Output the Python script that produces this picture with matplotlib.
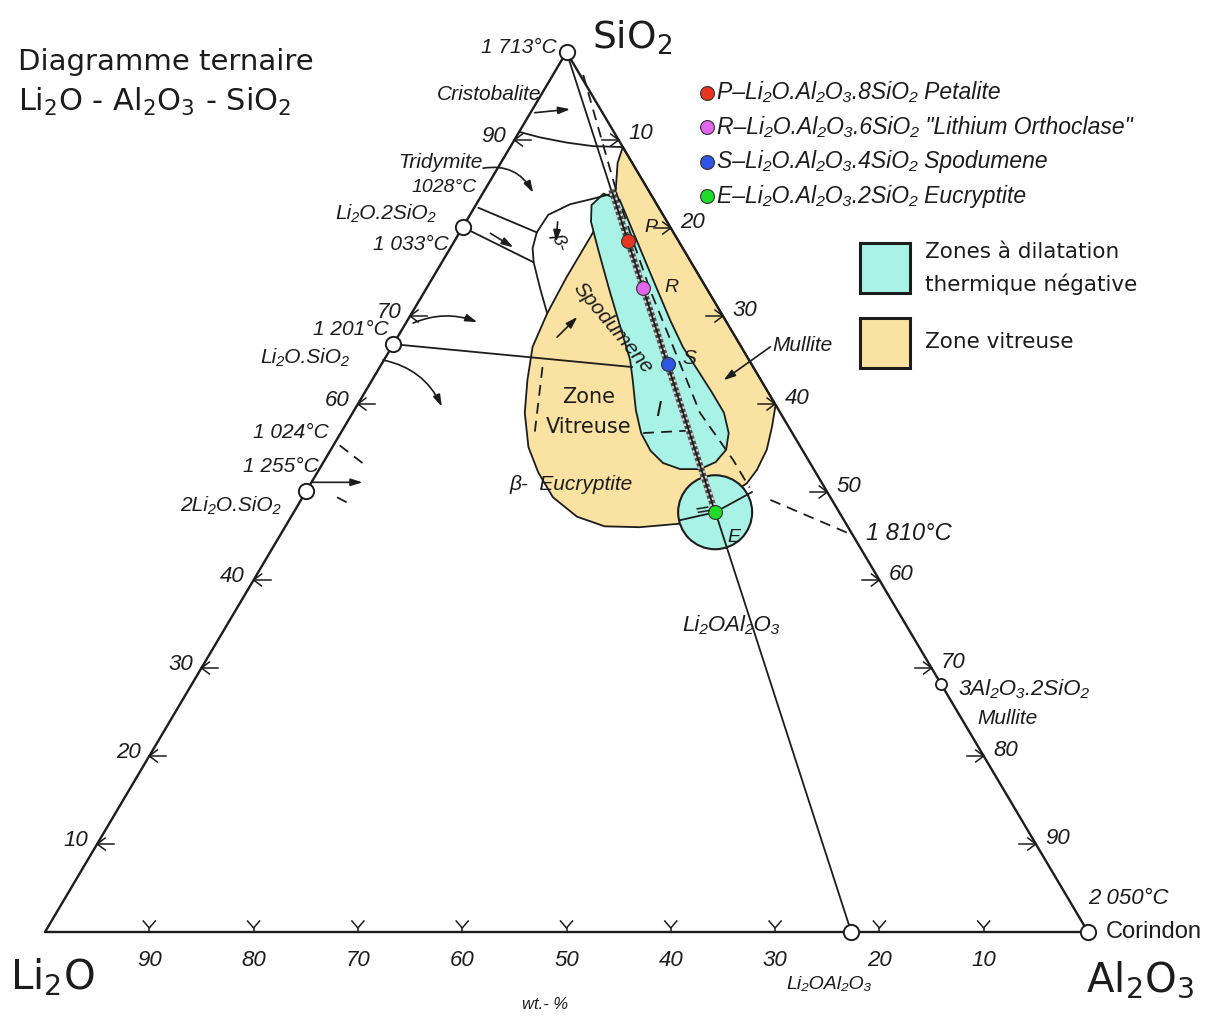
#!/usr/bin/env python3
"""
Ternary diagram Li2O - Al2O3 - SiO2 with the glass zone and the zones of
negative thermal expansion (P, R, S, E compositions).
"""

import matplotlib
matplotlib.use('Agg')
import matplotlib.pyplot as plt
from matplotlib.patches import Polygon, Circle, Rectangle
import numpy as np

# ---------------------------------------------------------------------------
# Data - compositions in wt %, given as (Al2O3, SiO2); Li2O is the rest
# ---------------------------------------------------------------------------
tick_values = [10, 20, 30, 40, 50, 60, 70, 80, 90]
left_labels = [10, 20, 30, 40, 60, 70, 90]

# white circles: SiO2, Al2O3, Li2O.Al2O3, Li2O.SiO2, Li2O.2SiO2, 2Li2O.SiO2
compound_al = [0, 100, 77.3, 0, 0, 0]
compound_si = [100, 0, 0, 66.8, 80.1, 50.1]
mullite_al, mullite_si = 71.8, 28.2

phase_names = ['P', 'R', 'S', 'E']
phase_al = [16.6, 20.7, 27.4, 40.4]
phase_si = [78.5, 73.2, 64.6, 47.7]
phase_colors = ['#e8351f', '#e066ec', '#2f55e6', '#1fdc2a']
phase_legend = ['P–Li₂O.Al₂O₃.8SiO₂ Petalite',
                'R–Li₂O.Al₂O₃.6SiO₂ "Lithium Orthoclase"',
                'S–Li₂O.Al₂O₃.4SiO₂ Spodumene',
                'E–Li₂O.Al₂O₃.2SiO₂ Eucryptite']

# glass zone (yellow)
glass_al = [10.8, 40.1, 41.0, 41.8, 42.0, 41.8, 41.2, 40.6, 37.7, 34.0, 30.6,
            27.4, 24.0, 21.2, 18.8, 16.5, 14.9, 13.5, 13.0, 12.8, 12.8, 12.7, 11.2]
glass_si = [89.2, 59.9, 57.4, 54.8, 52.5, 51.0, 50.2, 47.4, 46.4, 46.0, 46.1,
            47.2, 49.4, 52.2, 55.1, 59.0, 62.7, 66.5, 70.3, 74.4, 79.0, 84.0, 87.4]

# negative expansion lobe (cyan)
lobe_al = [11.6, 13.5, 16.4, 19.3, 22.2, 25.2, 27.9, 30.6, 33.2, 35.6, 37.2, 37.9,
           37.6, 36.5, 34.6, 32.6, 30.7, 28.8, 27.0, 25.0, 23.6, 20.6, 17.6, 14.3,
           12.0, 11.1]
lobe_si = [83.9, 83.2, 79.8, 76.4, 73.0, 69.5, 66.5, 63.9, 61.4, 59.0, 56.7, 54.8,
           53.4, 52.6, 52.6, 53.3, 54.7, 56.7, 59.3, 62.7, 65.0, 69.0, 73.0, 77.5,
           80.7, 82.6]

# boundary / tie lines
join_al, join_si = [0, 77.3], [100, 0]
hatch_al, hatch_si = [12.4, 40.4], [84.0, 47.7]
cristo_al, cristo_si = [0.1, 2.3, 5.2, 7.9, 10.8], [90.9, 90.3, 89.7, 89.3, 89.2]
upper_al, upper_si = [0.4, 7.4], [82.3, 79.5]
lower_al, lower_si = [0, 8.8], [80.1, 76.1]
beta_top_al, beta_top_si = [7.4, 7.5, 9.0, 10.8, 12.7], [79.5, 81.5, 82.7, 83.3, 84.0]
beta_left_al, beta_left_si = [7.4, 7.9, 8.8, 11.0, 13.0], [79.5, 77.7, 76.1, 73.0, 70.3]
metasil_al, metasil_si = [0, 24.2], [66.8, 64.2]
spoke1_al, spoke1_si = [40.4, 42.8], [47.7, 50.0]
spoke2_al, spoke2_si = [40.4, 37.5], [47.7, 46.8]

dashed_lines = [
    ([2.9, 12.6], [97.4, 84.3]),
    ([12.7, 21.5, 33.3, 39.2, 42.3], [84.1, 73.0, 59.0, 53.6, 50.5]),
    ([45.0, 54.9], [49.1, 45.1]),
    ([15.6, 18.6], [64.2, 56.7]),
    ([29.0, 33.6], [56.7, 57.0]),
    ([0.6, 4.1], [55.3, 53.1]),
    ([3.3, 5.2], [49.4, 48.5]),
]

# arrows: (Al2O3 start, SiO2 start, Al2O3 end, SiO2 end, curvature)
arrows = [
    (0.4, 93.1, 3.6, 93.5, 0.0),
    (-1.4, 86.8, 4.8, 84.0, -0.35),
    (0.7, 69.2, 6.8, 69.3, -0.2),
    (-0.1, 65.0, 8.2, 59.7, -0.25),
    (0.05, 51.1, 4.9, 51.1, 0.0),
    (3.0, 79.4, 6.0, 77.8, 0.0),
    (8.8, 80.7, 9.8, 78.4, 0.0),
    (15.3, 67.6, 16.1, 69.9, 0.0),
    (36.3, 66.5, 33.7, 62.7, 0.0),
]

# ---------------------------------------------------------------------------
# Frame: Li2O corner at pixel (45, 932), base 1043 px, slightly flattened
# ---------------------------------------------------------------------------
SIDE = 1043.0
X0, Y0 = 45, 932
HGT = 880 / SIDE

ink = '#1c1c1c'
cyan = '#a8f3e6'
sand = '#fae2a2'

plt.rcParams['font.family'] = ['Liberation Sans', 'DejaVu Sans']


def tern(al, si):
    al = np.asarray(al, float) / 100.0
    si = np.asarray(si, float) / 100.0
    return al + 0.5 * si, si * HGT


def px(x, y):
    return (x - X0) / SIDE, (Y0 - y) / SIDE


def d(n):
    return n / SIDE


fig = plt.figure(figsize=(12.14, 10.21), dpi=100)
ax = fig.add_axes([0, 0, 1, 1])
ax.set_xlim(px(0, 0)[0], px(1214, 0)[0])
ax.set_ylim(px(0, 1021)[1], px(0, 0)[1])
ax.axis('off')


def tline(al, si, lw=1.3, **kw):
    x, y = tern(al, si)
    ax.plot(x, y, color=ink, lw=lw, solid_capstyle='round', zorder=3, **kw)


def label(x, y, s, size=14, style='italic', ha='left', va='center', **kw):
    tx, ty = px(x, y)
    ax.text(tx, ty, s, fontsize=size, fontstyle=style, ha=ha, va=va,
            color=ink, zorder=8, **kw)


# zones
gx, gy = tern(glass_al, glass_si)
ax.add_patch(Polygon(np.column_stack([gx, gy]), closed=True, fc=sand, ec=ink,
                     lw=1.3, zorder=1))
lx, ly = tern(lobe_al, lobe_si)
ax.add_patch(Polygon(np.column_stack([lx, ly]), closed=True, fc=cyan, ec=ink,
                     lw=1.3, zorder=2))
ex, ey = tern(phase_al[3], phase_si[3])
ax.add_patch(Circle((ex, ey), radius=d(37), fc=cyan, ec=ink, lw=1.5, zorder=2.5))

# triangle
tline([0, 100, 0, 0], [0, 0, 100, 0], lw=1.7)

# lines
tline(join_al, join_si)
tline(cristo_al, cristo_si)
tline(upper_al, upper_si)
tline(lower_al, lower_si)
tline(beta_top_al, beta_top_si)
tline(beta_left_al, beta_left_si)
tline(metasil_al, metasil_si)
tline(spoke1_al, spoke1_si)
tline(spoke2_al, spoke2_si)
for al, si in dashed_lines:
    tline(al, si, lw=1.3, linestyle=(0, (6, 4)))

# hatched join P-R-S-E
hx, hy = tern(hatch_al, hatch_si)
ax.plot(hx, hy, color='#4a4a4a', lw=4.5, zorder=3.4)
ax.plot(hx, hy, color='#d8d8d8', lw=4.5, linestyle=(0, (0.4, 0.5)), zorder=3.5)
ax.plot(hx, hy, color=ink, lw=1.3, zorder=3.6)

for a0, s0, a1, s1, rad in arrows:
    x0, y0 = tern(a0, s0)
    x1, y1 = tern(a1, s1)
    ax.annotate('', xy=(x1, y1), xytext=(x0, y0), zorder=4,
                arrowprops=dict(arrowstyle='-|>,head_length=0.7,head_width=0.22',
                                color=ink, lw=1.2, shrinkA=0, shrinkB=0,
                                connectionstyle=f'arc3,rad={rad}'))

# axis ticks and labels
for v in tick_values:
    # bottom (Li2O %)
    bx, by = tern(100 - v, 0)
    ax.plot([bx - d(6), bx, bx + d(6)], [by + d(11), by + d(4), by + d(11)],
            color=ink, lw=1.1, zorder=3)
    ax.plot([bx, bx], [by, by + d(4)], color=ink, lw=1.1, zorder=3)
    ax.text(bx, by - d(28), f'{v}', fontsize=16, fontstyle='italic',
            ha='center', va='center', color=ink)
    # right (Al2O3 %)
    rx, ry = tern(v, 100 - v)
    ax.plot([rx - d(17), rx], [ry, ry], color=ink, lw=1.1, zorder=3)
    ax.plot([rx - d(8), rx, rx - d(8)], [ry + d(6), ry, ry - d(6)],
            color=ink, lw=1.1, zorder=3)
    ax.text(rx + d(22), ry + d(6), f'{v}', fontsize=16, fontstyle='italic',
            ha='center', va='center', color=ink)
    # left (SiO2 %)
    if v in left_labels:
        qx, qy = tern(0, v)
        ax.plot([qx, qx + d(17)], [qy, qy], color=ink, lw=1.1, zorder=3)
        ax.plot([qx + d(8), qx, qx + d(8)], [qy + d(6), qy, qy - d(6)],
                color=ink, lw=1.1, zorder=3)
        ax.text(qx - d(21), qy + d(4), f'{v}', fontsize=16, fontstyle='italic',
                ha='center', va='center', color=ink)

# compounds and phases
cx, cy = tern(compound_al, compound_si)
ax.plot(cx, cy, 'o', ms=11, mfc='white', mec=ink, mew=1.4, ls='none', zorder=6)
mx, my = tern(mullite_al, mullite_si)
ax.plot(mx, my, 'o', ms=8, mfc='white', mec=ink, mew=1.3, zorder=6)
px_, py_ = tern(phase_al, phase_si)
for x, y, c in zip(px_, py_, phase_colors):
    ax.plot(x, y, 'o', ms=10, mfc=c, mec='#333333', mew=0.8, zorder=7)

# legend of the phases
for i, (c, txt) in enumerate(zip(phase_colors, phase_legend)):
    yy = 93 + i * 34.5
    lx0, ly0 = px(707, yy)
    ax.plot(lx0, ly0, 'o', ms=10, mfc=c, mec='#333333', mew=0.8, zorder=7)
    label(717, yy, txt, size=16.5)

# legend boxes
for (y_top, colour) in [(243, cyan), (318, sand)]:
    bx0, by0 = px(860, y_top + 50)
    ax.add_patch(Rectangle((bx0, by0), d(50), d(50), fc=colour, ec=ink, lw=2.2,
                           zorder=6))
label(925, 252, 'Zones à dilatation', size=15.5, style='normal', family='DejaVu Sans')
label(925, 284, 'thermique négative', size=15.5, style='normal', family='DejaVu Sans')
label(925, 342, 'Zone vitreuse', size=15.5, style='normal', family='DejaVu Sans')

# title and corners
label(18, 62, 'Diagramme ternaire', size=21, style='normal', family='DejaVu Sans')
label(18, 102, r'Li$_2$O - Al$_2$O$_3$ - SiO$_2$', size=22, style='normal',
      family='DejaVu Sans')
label(592, 38, r'SiO$_2$', size=27, style='normal', family='DejaVu Sans')
label(10, 978, r'Li$_2$O', size=29, style='normal', family='DejaVu Sans')
label(1086, 980, r'Al$_2$O$_3$', size=29, style='normal', family='DejaVu Sans')

# annotations
label(557, 48, '1 713°C', size=15, ha='right')
label(437, 95, 'Cristobalite', size=15)
label(482, 163, 'Tridymite', size=15, ha='right')
label(412, 188, '1028°C', size=14)
label(335, 213, 'Li₂O.2SiO₂', size=15)
label(373, 245, '1 033°C', size=15)
label(313, 330, '1 201°C', size=15)
label(260, 358, 'Li₂O.SiO₂', size=15)
label(253, 432, '1 024°C', size=15)
label(243, 467, '1 255°C', size=15)
label(180, 505, '2Li₂O.SiO₂', size=15)
label(559, 242, 'β-', size=14, ha='center', rotation=-72)
label(613, 328, 'Spodumene', size=15, ha='center', rotation=-50)
label(589, 397, 'Zone', size=15, style='normal', ha='center', family='DejaVu Sans')
label(589, 427, 'Vitreuse', size=15, style='normal', ha='center', family='DejaVu Sans')
label(510, 485, 'β-  Eucryptite', size=15)
label(658, 410, 'I', size=16, ha='center')
label(651, 227, 'P', size=14, ha='center')
label(671, 288, 'R', size=14, ha='center')
label(689, 358, 'S', size=15, ha='center')
label(700, 510, 'II', size=12, ha='center', rotation=-70)
label(734, 537, 'E', size=14, ha='center')
label(772, 346, 'Mullite', size=15)
label(866, 533, '1 810°C', size=17)
label(682, 625, 'Li₂OAl₂O₃', size=16)
label(958, 690, '3Al₂O₃.2SiO₂', size=16)
label(977, 718, 'Mullite', size=15)
label(1088, 898, '2 050°C', size=16)
label(1106, 932, 'Corindon', size=17, style='normal')
label(786, 984, 'Li₂OAl₂O₃', size=14)
label(522, 1004, 'wt.- %', size=12)

fig.savefig('out.png', dpi=100, facecolor='white')
